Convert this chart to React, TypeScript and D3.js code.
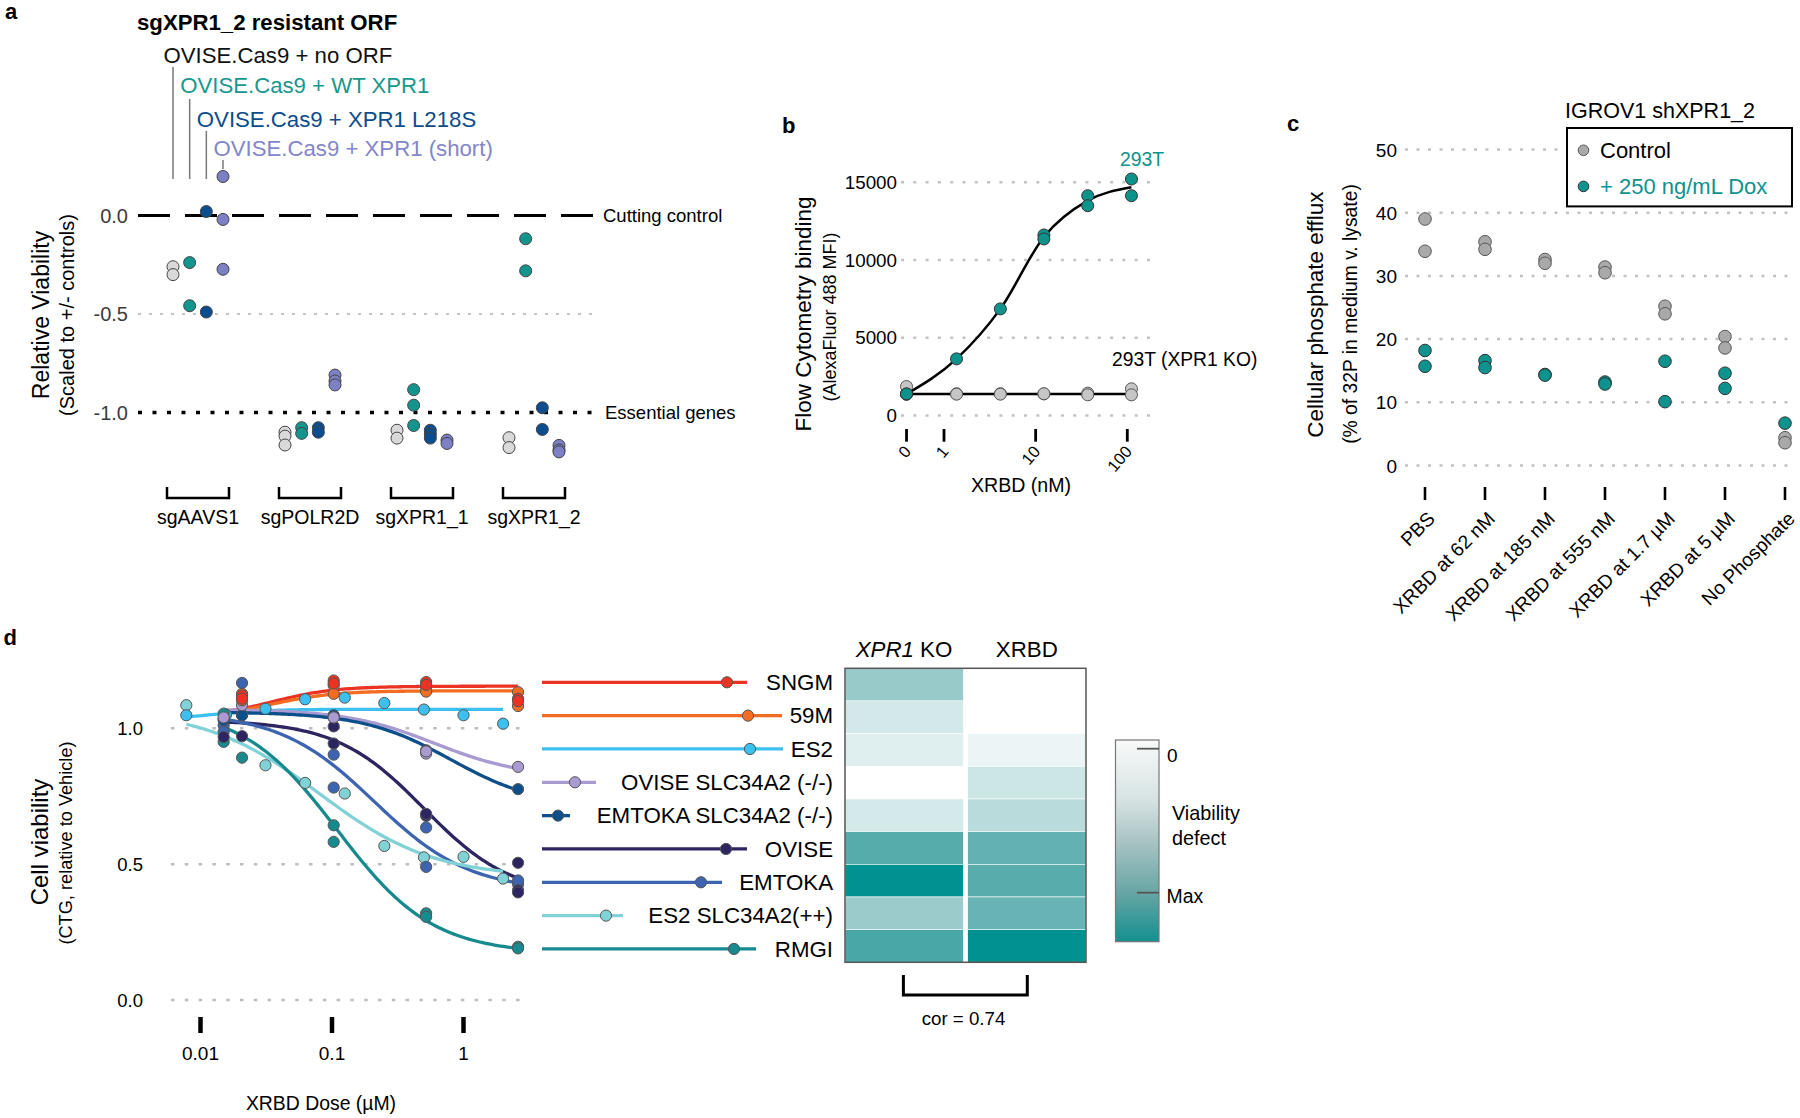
import React, { useEffect, useRef } from "react";
import * as d3 from "d3";

const FONT = "'Liberation Sans', Arial, Helvetica, sans-serif";

// ---------------- Panel a ----------------
const aGroups = ["sgAAVS1", "sgPOLR2D", "sgXPR1_1", "sgXPR1_2"];
const aConditions = ["OVISE.Cas9 + no ORF", "OVISE.Cas9 + WT XPR1", "OVISE.Cas9 + XPR1 L218S", "OVISE.Cas9 + XPR1 (short)"];
const aNoORF = [[-0.26, -0.3], [-1.1, -1.12, -1.165], [-1.09, -1.13], [-1.128, -1.178]];
const aWT = [[-0.239, -0.458], [-1.077, -1.106], [-0.884, -0.963, -1.066], [-0.118, -0.281]];
const aL218S = [[0.02, -0.49], [-1.077, -1.1], [-1.09, -1.11, -1.13], [-0.976, -1.086]];
const aShort = [[0.198, -0.02, -0.273], [-0.81, -0.84, -0.86], [-1.14, -1.157], [-1.167, -1.19, -1.2]];
const aYTicks = [0, -0.5, -1];

// ---------------- Panel b ----------------
const bDoses = [0, 1.37, 4.12, 12.3, 37, 111];
const b293T = [[1373, 1390], [3643], [6857], [11613, 11356], [14139, 13496], [15212, 14139]];
const bKO = [[1864, 1373], [1400, 1373], [1400, 1373], [1390, 1400], [1440, 1330], [1716, 1330]];
const bYTicks = [0, 5000, 10000, 15000];
const bXTicks = [0, 1, 10, 100];

// ---------------- Panel c ----------------
const cCategories = ["PBS", "XRBD at 62 nM", "XRBD at 185 nM", "XRBD at 555 nM", "XRBD at 1.7 \u00b5M", "XRBD at 5 \u00b5M", "No Phosphate"];
const cControl = [[39.0, 33.9], [35.4, 34.2], [32.6, 32.0], [31.4, 30.5], [25.2, 24.0], [20.4, 18.6], [4.4, 3.6]];
const cDox = [[18.2, 15.7], [16.6, 15.5], [14.4, 14.3], [13.2, 12.9], [16.5, 10.1], [14.6, 12.2], [6.7]];
const cYTicks = [0, 10, 20, 30, 40, 50];

// ---------------- Panel d ----------------
const dLines = ["SNGM", "59M", "ES2", "OVISE SLC34A2 (-/-)", "EMTOKA SLC34A2 (-/-)", "OVISE", "EMTOKA", "ES2 SLC34A2(++)", "RMGI"];
const dColors = ["#ec3323", "#f36c21", "#3cc0f0", "#a99bd1", "#0d4f8b", "#2c2562", "#3c64b1", "#80d2d7", "#168a8e"];
const dSNGM = [[0.0207, 1.121], [0.0207, 1.109], [0.103, 1.176], [0.103, 1.165], [0.52, 1.17], [0.52, 1.16], [2.6, 1.109], [2.6, 1.1]];
const d59M = [[0.0207, 1.127], [0.0207, 1.103], [0.103, 1.158], [0.103, 1.127], [0.52, 1.14], [0.52, 1.135], [2.6, 1.133], [2.6, 1.082]];
const dES2 = [[0.0078, 1.048], [0.0156, 1.05], [0.0312, 1.072], [0.0625, 1.107], [0.125, 1.113], [0.25, 1.093], [0.5, 1.069], [1, 1.048], [2, 1.017]];
const dOVISE_SLC = [[0.015, 1.04], [0.0207, 1.085], [0.103, 1.04], [0.52, 0.907], [0.52, 0.915], [2.6, 0.858]];
const dEMTOKA_SLC = [[0.015, 1.03], [0.0207, 1.048], [0.103, 1.048], [0.103, 1.04], [0.52, 0.919], [2.6, 0.776]];
const dOVISE = [[0.015, 1.036], [0.015, 0.968], [0.0207, 1.048], [0.0207, 0.971], [0.103, 1.007], [0.103, 0.944], [0.52, 0.678], [0.52, 0.685], [2.6, 0.505], [2.6, 0.404], [2.6, 0.396]];
const dEMTOKA = [[0.015, 1.011], [0.015, 0.987], [0.0207, 1.167], [0.103, 0.903], [0.103, 0.782], [0.52, 0.635], [0.52, 0.49], [2.6, 0.426], [2.6, 0.44]];
const dES2_SLC = [[0.0078, 1.085], [0.0156, 1.05], [0.0312, 0.864], [0.0625, 0.799], [0.125, 0.76], [0.25, 0.567], [0.5, 0.525], [1, 0.527], [2, 0.447]];
const dRMGI = [[0.015, 1.054], [0.015, 0.95], [0.0207, 0.892], [0.103, 0.643], [0.103, 0.582], [0.52, 0.319], [0.52, 0.306], [2.6, 0.196], [2.6, 0.19]];
const dPoints = [dSNGM, d59M, dES2, dOVISE_SLC, dEMTOKA_SLC, dOVISE, dEMTOKA, dES2_SLC, dRMGI];
// 4-parameter logistic fits (low-dose plateau, high-dose plateau, EC50, Hill)
const dFitLow = [1.04, 1.04, 1.03, 1.07, 1.06, 1.03, 1.06, 1.07, 1.08];
const dFitHigh = [1.155, 1.138, 1.07, 0.82, 0.71, 0.38, 0.4, 0.45, 0.17];
const dFitEC50 = [0.035, 0.035, 0.012, 0.6, 0.8, 0.5, 0.21, 0.08, 0.11];
const dFitHill = [1.8, 1.8, 2, 1.3, 1.3, 1.3, 1.2, 1.0, 1.2];
const dFitFrom = [0.017, 0.017, 0.0078, 0.015, 0.015, 0.015, 0.015, 0.0078, 0.015];
const dFitTo = [2.6, 2.6, 2, 2.6, 2.6, 2.6, 2.6, 2, 2.6];
const dYTicks = [0, 0.5, 1];
const dXTicks = [0.01, 0.1, 1];
const hmXPR1KO = [0.4, 0.17, 0.125, 0, 0.165, 0.66, 1.0, 0.39, 0.71];
const hmXRBD = [0, 0, 0.075, 0.196, 0.27, 0.61, 0.65, 0.59, 1.0];

// legend glyph layout (px from line start)
const LEG_LEN = [205, 240, 241, 54, 28, 205, 180, 81, 214];
const LEG_DOT = [185, 206, 208, 33, 16, 184, 159, 64, 192];

function T(g: any, x: number, y: number, s: string, size: number, o: any = {}) {
  const t = g.append("text").attr("x", x).attr("y", y).attr("font-size", size).attr("fill", o.fill || "#000").text(s);
  if (o.anchor) t.attr("text-anchor", o.anchor);
  if (o.weight) t.attr("font-weight", o.weight);
  if (o.transform) t.attr("transform", o.transform);
  return t;
}
function hline(g: any, x1: number, x2: number, y: number, stroke: string, w: number, dash?: string) {
  const l = g.append("line").attr("x1", x1).attr("x2", x2).attr("y1", y).attr("y2", y).attr("stroke", stroke).attr("stroke-width", w);
  if (dash) l.attr("stroke-dasharray", dash);
  return l;
}
function vline(g: any, x: number, y1: number, y2: number, stroke: string, w: number) {
  return g.append("line").attr("x1", x).attr("x2", x).attr("y1", y1).attr("y2", y2).attr("stroke", stroke).attr("stroke-width", w);
}

function drawA(svg: any) {
  const g = svg.append("g");
  T(g, 5, 18.5, "a", 22, { weight: "bold" });
  const y = d3.scaleLinear().domain([0, -1]).range([215.5, 412.5]);
  const x = d3.scaleBand().domain(aGroups).range([142, 590]);
  const sub = d3.scalePoint().domain(aConditions).range([-25, 25]);
  const cx = (gname: string, c: string) => (x(gname) as number) + x.bandwidth() / 2 + (sub(c) as number);

  hline(g, 138, 599, y(-0.5), "#c4c4c4", 2, "3 8");
  hline(g, 138, 599, y(0), "#000", 3.2, "32 15");
  hline(g, 138, 599, y(-1), "#000", 3.5, "4 10.5");
  T(g, 603, y(0) + 6.5, "Cutting control", 18.5);
  T(g, 605, y(-1) + 6.5, "Essential genes", 18.5);
  aYTicks.forEach((t) => T(g, 128, y(t) + 7, d3.format(".1f")(t).replace("\u2212", "-"), 20, { anchor: "end", fill: "#3b3b3b" }));

  T(g, 0, 0, "Relative Viability", 23, { anchor: "middle", transform: "translate(49,315) rotate(-90)" });
  T(g, 0, 0, "(Scaled to +/- controls)", 20, { anchor: "middle", transform: "translate(73.5,315) rotate(-90)" });

  aGroups.forEach((gn) => {
    const x0 = (x(gn) as number) + 25, x1 = (x(gn) as number) + x.bandwidth() - 25;
    g.append("path").attr("d", `M${x0},487V498H${x1}V487`).attr("fill", "none").attr("stroke", "#000").attr("stroke-width", 2.5);
    T(g, (x(gn) as number) + x.bandwidth() / 2, 524, gn, 19.5, { anchor: "middle" });
  });

  const colors = ["#d9d9d9", "#13958e", "#0b4d8e", "#7c80c4"];
  const labelColors = ["#111111", "#17988f", "#0d4c8c", "#8386c8"];
  const baselines = [63, 93, 126.5, 156];
  const lineTop = [67, 99, 131, 160];
  const lineBot = [179, 179, 179, 169];
  T(g, 137, 29.5, "sgXPR1_2 resistant ORF", 22.2, { weight: "bold" });
  aConditions.forEach((c, i) => {
    const lx = cx(aGroups[0], c);
    vline(g, lx, lineTop[i], lineBot[i], "#777", 1.5);
    T(g, lx - 9.5, baselines[i], c, 22.2, { fill: labelColors[i] });
  });

  const all = [aNoORF, aWT, aL218S, aShort];
  all.forEach((cond, ci) => {
    cond.forEach((vals, gi) => {
      vals.forEach((v) => {
        g.append("circle").attr("cx", cx(aGroups[gi], aConditions[ci])).attr("cy", y(v)).attr("r", 6)
          .attr("fill", colors[ci]).attr("stroke", "#444").attr("stroke-width", 1);
      });
    });
  });
}

function drawB(svg: any) {
  const g = svg.append("g");
  T(g, 782, 133, "b", 22, { weight: "bold" });
  const xl = d3.scaleLog().domain([1, 100]).range([944, 1127.3]);
  const zeroPos = 0.39;
  const x = (d: number) => xl(d === 0 ? zeroPos : d);
  const y = d3.scaleLinear().domain([0, 15000]).range([415.5, 182.3]);
  bYTicks.forEach((t) => {
    hline(g, 901, 1150, y(t), "#c2c2c2", 2.5, "3 9.3");
    T(g, 897, y(t) + 6.5, String(t), 18.8, { anchor: "end" });
  });
  bXTicks.forEach((t) => {
    vline(g, x(t), 429, 441.7, "#000", 2.8);
    T(g, 0, 0, String(t), 16.5, { anchor: "end", transform: `translate(${x(t) + 5.5},452) rotate(-50)` });
  });
  const means = bDoses.map((d, i) => ({ d, v: d3.mean(b293T[i]) as number }));
  const line = d3.line<any>().x((p) => x(p.d)).y((p) => y(p.v)).curve(d3.curveMonotoneX);
  g.append("path").attr("d", line(means)).attr("fill", "none").attr("stroke", "#000").attr("stroke-width", 2.5);
  const koMean = d3.mean(bKO.flat()) as number;
  g.append("path").attr("d", line(bDoses.map((d) => ({ d, v: koMean - 60 })))).attr("fill", "none").attr("stroke", "#000").attr("stroke-width", 2.5);
  bDoses.forEach((d, i) => bKO[i].forEach((v) => g.append("circle").attr("cx", x(d)).attr("cy", y(v)).attr("r", 6).attr("fill", "#c6c6c6").attr("stroke", "#555").attr("stroke-width", 1)));
  bDoses.forEach((d, i) => b293T[i].forEach((v) => g.append("circle").attr("cx", x(d)).attr("cy", y(v)).attr("r", 6).attr("fill", "#0e928c").attr("stroke", "#333").attr("stroke-width", 1)));
  T(g, 1120, 166.3, "293T", 19.4, { fill: "#0e928c" });
  T(g, 1112, 366, "293T (XPR1 KO)", 19.3);
  T(g, 1021, 492, "XRBD (nM)", 19.6, { anchor: "middle" });
  T(g, 0, 0, "Flow Cytometry binding", 22.5, { anchor: "middle", transform: "translate(810.5,314) rotate(-90)" });
  T(g, 0, 0, "(AlexaFluor 488 MFI)", 18, { anchor: "middle", transform: "translate(836,317) rotate(-90)" });
}

function drawC(svg: any) {
  const g = svg.append("g");
  T(g, 1287, 131, "c", 22, { weight: "bold" });
  const x = d3.scalePoint().domain(cCategories).range([1425, 1785]);
  const y = d3.scaleLinear().domain([0, 50]).range([465.5, 149.5]);
  cYTicks.forEach((t) => {
    hline(g, 1405, 1792, y(t), "#c2c2c2", 2.5, "3 8.5");
    T(g, 1397, y(t) + 7, String(t), 19, { anchor: "end" });
  });
  cCategories.forEach((c) => {
    const px = x(c) as number;
    vline(g, px, 487, 500, "#000", 2.6);
    T(g, 0, 0, c, 19.3, { anchor: "end", transform: `translate(${px + 11},520) rotate(-45)` });
  });
  cCategories.forEach((c, i) => cControl[i].forEach((v) => g.append("circle").attr("cx", x(c)).attr("cy", y(v)).attr("r", 6.3).attr("fill", "#a9a9a9").attr("stroke", "#555").attr("stroke-width", 1)));
  cCategories.forEach((c, i) => cDox[i].forEach((v) => g.append("circle").attr("cx", x(c)).attr("cy", y(v)).attr("r", 6.3).attr("fill", "#0e928e").attr("stroke", "#333").attr("stroke-width", 1)));
  // legend
  g.append("rect").attr("x", 1567).attr("y", 128).attr("width", 225).attr("height", 78.4).attr("fill", "#fff").attr("stroke", "#000").attr("stroke-width", 2);
  T(g, 1565, 117.5, "IGROV1 shXPR1_2", 21.5);
  g.append("circle").attr("cx", 1583.5).attr("cy", 150.3).attr("r", 5.3).attr("fill", "#a9a9a9").attr("stroke", "#555");
  g.append("circle").attr("cx", 1583.5).attr("cy", 186.4).attr("r", 5.3).attr("fill", "#0e928e").attr("stroke", "#333");
  T(g, 1600, 158.3, "Control", 22);
  T(g, 1600, 194.4, "+ 250 ng/mL Dox", 22, { fill: "#0e928e" });
  T(g, 0, 0, "Cellular phosphate efflux", 22.4, { anchor: "middle", transform: "translate(1323,314.7) rotate(-90)" });
  T(g, 0, 0, "(% of 32P in medium v. lysate)", 19.3, { anchor: "middle", transform: "translate(1357,314) rotate(-90)" });
}

function drawD(svg: any) {
  const g = svg.append("g");
  T(g, 3.5, 645, "d", 22, { weight: "bold" });
  const x = d3.scaleLog().domain([0.01, 1]).range([200.5, 463.5]);
  const y = d3.scaleLinear().domain([0, 1]).range([1000, 728.3]);
  dYTicks.forEach((t) => {
    hline(g, 171, 520, y(t), "#bdbdbd", 2.5, "3.5 10.3");
    T(g, 143, y(t) + 6.5, d3.format(".1f")(t), 18.5, { anchor: "end" });
  });
  dXTicks.forEach((t) => {
    vline(g, x(t), 1017, 1033, "#000", 4.5);
    T(g, x(t), 1060, String(t), 19, { anchor: "middle" });
  });
  T(g, 321, 1110, "XRBD Dose (\u00b5M)", 19.4, { anchor: "middle" });
  T(g, 0, 0, "Cell viability", 24, { anchor: "middle", transform: "translate(48,842) rotate(-90)" });
  T(g, 0, 0, "(CTG, relative to Vehicle)", 18.2, { anchor: "middle", transform: "translate(72,843) rotate(-90)" });

  dLines.forEach((_, i) => {
    const f = (dose: number) => dFitHigh[i] + (dFitLow[i] - dFitHigh[i]) / (1 + Math.pow(dose / dFitEC50[i], dFitHill[i]));
    const doses = d3.range(0, 101).map((k) => Math.exp(Math.log(dFitFrom[i]) + (Math.log(dFitTo[i]) - Math.log(dFitFrom[i])) * k / 100));
    const l = d3.line<number>().x((d) => x(d)).y((d) => y(f(d)));
    g.append("path").attr("d", l(doses)).attr("fill", "none").attr("stroke", dColors[i]).attr("stroke-width", 3.3);
  });
  const order = [7, 2, 8, 6, 5, 4, 3, 1, 0];
  order.forEach((i) => {
    dPoints[i].forEach((p) => {
      g.append("circle").attr("cx", x(p[0])).attr("cy", y(p[1])).attr("r", 5.6).attr("fill", dColors[i]).attr("stroke", "#555").attr("stroke-width", 1);
    });
  });

  // legend
  dLines.forEach((name, i) => {
    const ly = 682.3 + i * 33.33;
    hline(g, 542, 542 + LEG_LEN[i], ly, dColors[i], 3.3);
    g.append("circle").attr("cx", 542 + LEG_DOT[i]).attr("cy", ly).attr("r", 5.6).attr("fill", dColors[i]).attr("stroke", "#555").attr("stroke-width", 1);
    T(g, 833, ly + 7.8, name, 22.3, { anchor: "end" });
  });

  // heatmap
  const rows = d3.scaleBand().domain(dLines).range([668.3, 962.3]);
  const col = d3.scaleLinear<string>().domain([0, 0.17, 0.4, 0.66, 1]).range(["#ffffff", "#d3e8e9", "#99caca", "#56abab", "#009190"]);
  const cols = [{ x0: 845, x1: 963.3, vals: hmXPR1KO }, { x0: 967.7, x1: 1086, vals: hmXRBD }];
  cols.forEach((c) => {
    dLines.forEach((name, i) => {
      g.append("rect").attr("x", c.x0).attr("y", rows(name)).attr("width", c.x1 - c.x0).attr("height", rows.bandwidth())
        .attr("fill", col(c.vals[i])).attr("stroke", "#ffffff").attr("stroke-width", 0.6);
    });
  });
  g.append("rect").attr("x", 845).attr("y", 668.3).attr("width", 241).attr("height", 294).attr("fill", "none").attr("stroke", "#555").attr("stroke-width", 1.5);
  const h1 = g.append("text").attr("x", 904).attr("y", 656.5).attr("font-size", 22.3).attr("text-anchor", "middle");
  h1.append("tspan").attr("font-style", "italic").text("XPR1");
  h1.append("tspan").text(" KO");
  T(g, 1026.8, 656.5, "XRBD", 22.3, { anchor: "middle" });
  g.append("path").attr("d", "M903.4,975V995H1027.3V975").attr("fill", "none").attr("stroke", "#000").attr("stroke-width", 3);
  T(g, 963.5, 1025, "cor = 0.74", 18.7, { anchor: "middle" });

  // colorbar
  const defs = svg.append("defs");
  const grad = defs.append("linearGradient").attr("id", "cbar").attr("x1", 0).attr("x2", 0).attr("y1", 0).attr("y2", 1);
  [[0, "#f8f9f9"], [0.3, "#d6e2e2"], [0.5, "#a9c4c4"], [0.75, "#6aa6a6"], [1, "#14908f"]].forEach((s) =>
    grad.append("stop").attr("offset", s[0]).attr("stop-color", s[1]));
  g.append("rect").attr("x", 1115.5).attr("y", 740).attr("width", 43.5).attr("height", 201.7).attr("fill", "url(#cbar)").attr("stroke", "#777").attr("stroke-width", 1.2);
  hline(g, 1137, 1159, 748.7, "#555", 1.8);
  hline(g, 1137, 1159, 892.7, "#555", 1.8);
  T(g, 1167, 762, "0", 19);
  T(g, 1166.5, 903, "Max", 19.4);
  T(g, 1172, 820, "Viability", 19.8);
  T(g, 1172, 845, "defect", 19.8);
}

export default function App() {
  const ref = useRef<SVGSVGElement>(null);
  useEffect(() => {
    const svg = d3.select(ref.current);
    svg.selectAll("*").remove();
    drawA(svg);
    drawB(svg);
    drawC(svg);
    drawD(svg);
  }, []);
  return (
    <svg
      ref={ref}
      width={1800}
      height={1118}
      style={{ position: "absolute", left: 0, top: 0, background: "#fff" }}
      fontFamily={FONT}
    />
  );
}
